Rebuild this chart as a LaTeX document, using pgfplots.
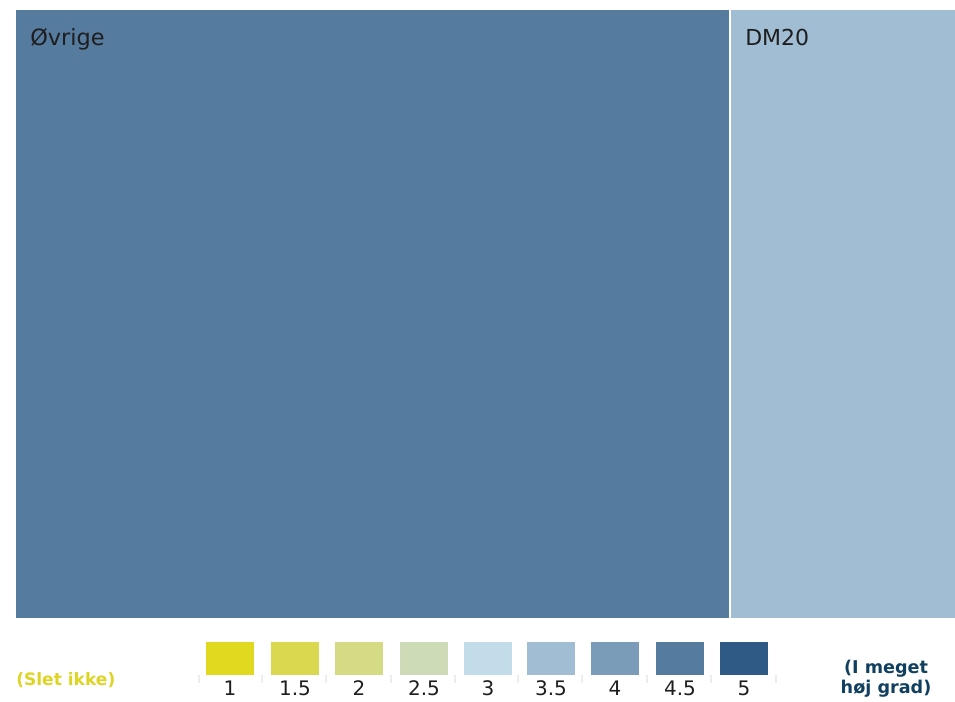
\documentclass[border=0pt]{standalone}
\usepackage{pgfplots}
\pgfplotsset{compat=1.18}
\usepackage{fontspec}
\setmainfont{DejaVu Sans}
\definecolor{c10}{HTML}{E1D91F}
\definecolor{c15}{HTML}{D9D84F}
\definecolor{c20}{HTML}{D5DB84}
\definecolor{c25}{HTML}{CDDBB7}
\definecolor{c30}{HTML}{C3DCEA}
\definecolor{c35}{HTML}{A0BDD3}
\definecolor{c40}{HTML}{7A9CB8}
\definecolor{c45}{HTML}{557B9F}
\definecolor{c50}{HTML}{2F5A86}
\definecolor{lowtxt}{HTML}{DDD424}
\definecolor{hightxt}{HTML}{113F60}
\definecolor{txt}{HTML}{1E1E1E}
\begin{document}
\begin{tikzpicture}
\path[use as bounding box] (0,0) rectangle (716.25pt,525.75pt);
\clip (0,0) rectangle (716.25pt,525.75pt);
\begin{axis}[at={(0,0)}, anchor=south west, scale only axis,
  width=716.25pt, height=525.75pt,
  xmin=0, xmax=955, ymin=0, ymax=701, y dir=reverse,
  axis lines=none, clip=false]
% treemap: Øvrige 76, DM20 24 (share of total width 939 from x=16)
\addplot[fill=c45, draw=none] coordinates {(16,10) (729.6,10) (729.6,618) (16,618)} -- cycle;
\addplot[fill=c35, draw=none] coordinates {(729.6,10) (955,10) (955,618) (729.6,618)} -- cycle;
\addplot[white, line width=1.6pt] coordinates {(729.6,10) (729.6,618)};
\node[anchor=base west, inner sep=0pt, font=\fontsize{16.8}{20}\selectfont, text=txt] at (axis cs:30,45) {Øvrige};
\node[anchor=base west, inner sep=0pt, font=\fontsize{16.5}{20}\selectfont, text=txt] at (axis cs:745,45.5) {DM20};
% legend swatches
\addplot[fill=c10, draw=none] coordinates {(206,642) (254,642) (254,675) (206,675)} -- cycle;
\addplot[fill=c15, draw=none] coordinates {(271,642) (319,642) (319,675) (271,675)} -- cycle;
\addplot[fill=c20, draw=none] coordinates {(335,642) (383,642) (383,675) (335,675)} -- cycle;
\addplot[fill=c25, draw=none] coordinates {(400,642) (448,642) (448,675) (400,675)} -- cycle;
\addplot[fill=c30, draw=none] coordinates {(464,642) (512,642) (512,675) (464,675)} -- cycle;
\addplot[fill=c35, draw=none] coordinates {(527,642) (575,642) (575,675) (527,675)} -- cycle;
\addplot[fill=c40, draw=none] coordinates {(591,642) (639,642) (639,675) (591,675)} -- cycle;
\addplot[fill=c45, draw=none] coordinates {(656,642) (704,642) (704,675) (656,675)} -- cycle;
\addplot[fill=c50, draw=none] coordinates {(720,642) (768,642) (768,675) (720,675)} -- cycle;
% small tick marks
\foreach \t in {199,262,326,391,455,518,582,647,711,776}{
  \edef\tmp{\noexpand\draw[black!7, line width=1.1pt] (axis cs:\t,675) -- (axis cs:\t,683);}\tmp
}
% legend labels
\foreach \x/\l in {230/1,295/1.5,359/2,424/2.5,488/3,551/3.5,615/4,680/4.5,744/5}{
  \edef\tmp{\noexpand\node[anchor=base, inner sep=0pt, font=\noexpand\fontsize{15}{18}\noexpand\selectfont, text=txt] at (axis cs:\x,695) {\l};}\tmp
}
\node[anchor=base west, inner sep=0pt, font=\bfseries\fontsize{12.8}{15}\selectfont, text=lowtxt] at (axis cs:16,685) {(Slet ikke)};
\node[anchor=base, inner sep=0pt, font=\bfseries\fontsize{13.2}{16}\selectfont, text=hightxt] at (axis cs:886,673) {(I meget};
\node[anchor=base, inner sep=0pt, font=\bfseries\fontsize{13.2}{16}\selectfont, text=hightxt] at (axis cs:886,693) {høj grad)};
\end{axis}
\end{tikzpicture}
\end{document}
